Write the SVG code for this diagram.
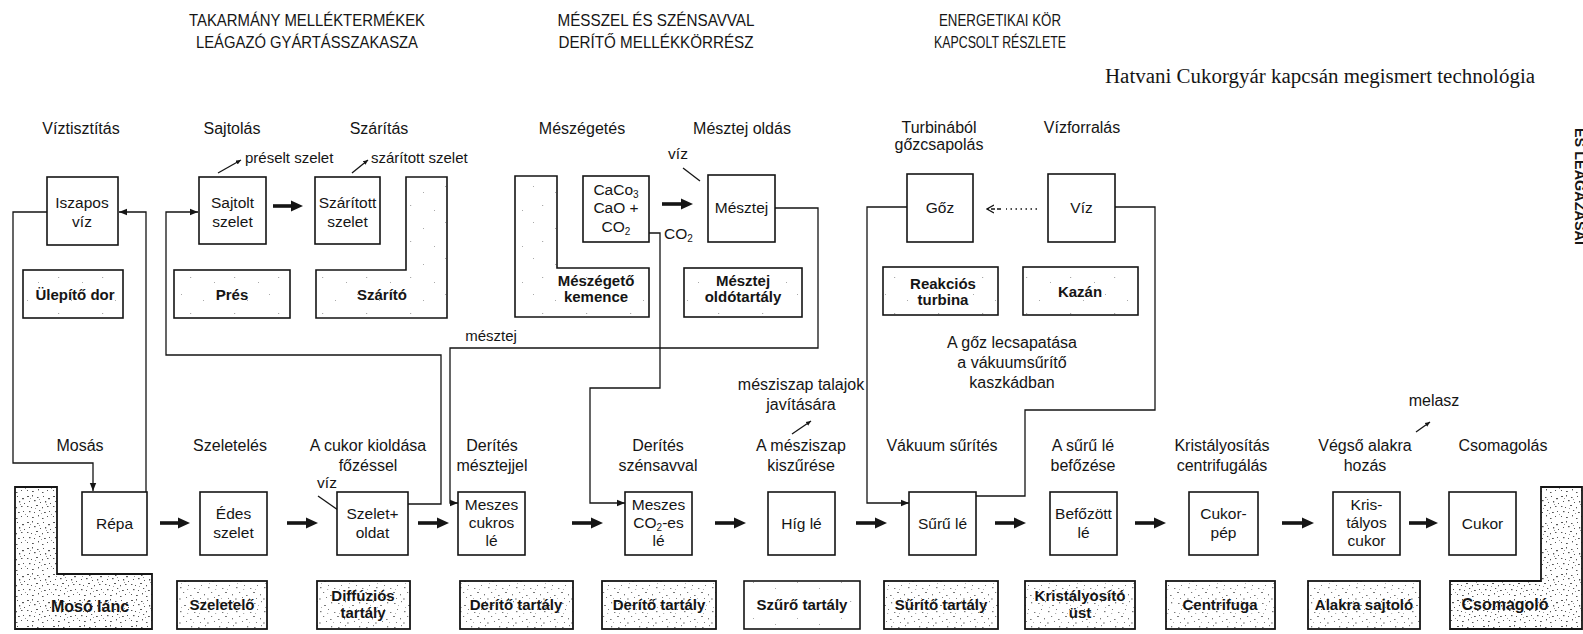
<svg xmlns="http://www.w3.org/2000/svg" width="1583" height="634" viewBox="0 0 1583 634">
<style>
text{font-family:"Liberation Sans",Arial,sans-serif;fill:#151515;text-anchor:middle}
.lb{font-size:16px}
.bt{font-size:15.5px}
.et{font-size:15px;font-weight:bold}
.el{font-size:16px;font-weight:bold}
.hd{font-size:17px}
.sm{font-size:15px}
.tm{font-family:"Liberation Serif","Times New Roman",serif;font-size:20px;text-anchor:start}
.box{fill:#fff;stroke:#151515;stroke-width:1.6}
.eq{fill:url(#spk);stroke:#151515;stroke-width:1.8}
.eqd{fill:url(#spkD);stroke:#151515;stroke-width:1.8}
.eql{fill:url(#spkL);stroke:#151515;stroke-width:1.6}
.ln{fill:none;stroke:#151515;stroke-width:1.3}
.th{fill:none;stroke:#151515;stroke-width:3.6;marker-end:url(#thk)}
.arr{marker-end:url(#sa)}
.tip{marker-end:url(#ta)}
</style>
<defs>
<marker id="thk" markerUnits="userSpaceOnUse" markerWidth="14" markerHeight="14" refX="2" refY="7" orient="auto"><path d="M0,1.5 L12,7 L0,12.5 z" fill="#151515"/></marker>
<marker id="sa" markerUnits="userSpaceOnUse" markerWidth="9" markerHeight="8" refX="8" refY="4" orient="auto"><path d="M0,0.8 L8,4 L0,7.2 z" fill="#151515"/></marker>
<marker id="ta" markerUnits="userSpaceOnUse" markerWidth="6" markerHeight="6" refX="5" refY="3" orient="auto"><path d="M0,0.8 L5,3 L0,5.2 z" fill="#151515"/></marker>
<marker id="oa" markerUnits="userSpaceOnUse" markerWidth="8" markerHeight="10" refX="7" refY="5" orient="auto"><path d="M0,1 L7,5 L0,9" fill="none" stroke="#151515" stroke-width="1.3"/></marker>
<pattern id="spk" width="28" height="24" patternUnits="userSpaceOnUse">
<rect width="28" height="24" fill="#fff"/>
<g fill="#7a7a7a">
<rect x="2" y="3" width="1.6" height="1"/><rect x="9" y="1" width="1" height="1.2"/><rect x="16" y="5" width="2" height="1"/><rect x="23" y="2" width="1.2" height="1.4"/>
<rect x="5" y="9" width="1" height="1"/><rect x="12" y="11" width="1.5" height="1.2"/><rect x="20" y="9" width="1" height="1"/><rect x="26" y="12" width="1.4" height="1"/>
<rect x="1" y="16" width="2" height="1"/><rect x="8" y="18" width="1" height="1.4"/><rect x="15" y="16" width="1.2" height="1"/><rect x="22" y="19" width="1.6" height="1"/>
<rect x="4" y="22" width="1" height="1"/><rect x="11" y="22.5" width="1.8" height="1"/><rect x="18" y="21" width="1" height="1"/>
</g>
<g fill="#b0b0b0">
<rect x="6" y="5" width="1" height="1"/><rect x="19" y="13" width="1.2" height="1"/><rect x="13" y="7" width="1" height="1"/><rect x="25" y="22" width="1" height="1"/><rect x="3" y="13" width="1" height="1"/>
</g>
</pattern>
<pattern id="spkD" width="26" height="26" patternUnits="userSpaceOnUse">
<rect width="26" height="26" fill="#fff"/>
<g fill="#555">
<rect x="1" y="2" width="2" height="1"/><rect x="6" y="1" width="1" height="1.5"/><rect x="11" y="3" width="1.5" height="1"/><rect x="17" y="2" width="1" height="1"/><rect x="22" y="4" width="2" height="1.2"/>
<rect x="3" y="7" width="1" height="1"/><rect x="8" y="6" width="1.6" height="1.2"/><rect x="14" y="8" width="1" height="1"/><rect x="19" y="7" width="1.2" height="1.5"/><rect x="24" y="9" width="1" height="1"/>
<rect x="1" y="12" width="1.4" height="1"/><rect x="5" y="13" width="1" height="1"/><rect x="10" y="11" width="2" height="1"/><rect x="16" y="13" width="1" height="1.3"/><rect x="21" y="12" width="1.5" height="1"/>
<rect x="3" y="17" width="1.5" height="1.2"/><rect x="8" y="18" width="1" height="1"/><rect x="13" y="16" width="1.2" height="1"/><rect x="18" y="18" width="1.8" height="1"/><rect x="23" y="17" width="1" height="1"/>
<rect x="1" y="22" width="1" height="1"/><rect x="6" y="23" width="1.8" height="1"/><rect x="12" y="21" width="1" height="1.4"/><rect x="16" y="24" width="1.5" height="1"/><rect x="21" y="22" width="1" height="1"/>
</g>
<g fill="#999">
<rect x="4" y="4" width="1" height="1"/><rect x="13" y="5" width="1" height="1"/><rect x="20" y="10" width="1" height="1"/><rect x="9" y="14" width="1" height="1"/><rect x="25" y="20" width="1" height="1"/><rect x="15" y="19" width="1" height="1"/>
</g>
</pattern>
<pattern id="spkL" width="44" height="36" patternUnits="userSpaceOnUse">
<rect width="44" height="36" fill="#fff"/>
<g fill="#aaa">
<rect x="5" y="6" width="1" height="1"/><rect x="27" y="12" width="1" height="1"/><rect x="14" y="25" width="1.2" height="1"/><rect x="38" y="30" width="1" height="1"/>
</g>
</pattern>
</defs>

<rect width="1583" height="634" fill="#fff"/>

<g id="headers">
<text class="hd" x="307" y="26" textLength="236" lengthAdjust="spacingAndGlyphs">TAKARMÁNY MELLÉKTERMÉKEK</text>
<text class="hd" x="307" y="48" textLength="222" lengthAdjust="spacingAndGlyphs">LEÁGAZÓ GYÁRTÁSSZAKASZA</text>
<text class="hd" x="656" y="26" textLength="197" lengthAdjust="spacingAndGlyphs">MÉSSZEL ÉS SZÉNSAVVAL</text>
<text class="hd" x="656" y="48" textLength="195" lengthAdjust="spacingAndGlyphs">DERÍTŐ MELLÉKKÖRRÉSZ</text>
<text class="hd" x="1000" y="26" textLength="122" lengthAdjust="spacingAndGlyphs">ENERGETIKAI KÖR</text>
<text class="hd" x="1000" y="48" textLength="132" lengthAdjust="spacingAndGlyphs">KAPCSOLT RÉSZLETE</text>
<text class="tm" x="1105" y="83" textLength="430" lengthAdjust="spacingAndGlyphs">Hatvani Cukorgyár kapcsán megismert technológia</text>
<text transform="translate(1575,128) rotate(90)" style="font-size:14px;font-weight:bold;text-anchor:start" textLength="117" lengthAdjust="spacingAndGlyphs">ÉS LEÁGAZÁSAI</text>
</g>

<g id="labels">
<text class="lb" x="81" y="134">Víztisztítás</text>
<text class="lb" x="232" y="134">Sajtolás</text>
<text class="lb" x="379" y="134">Szárítás</text>
<text class="lb" x="582" y="134">Mészégetés</text>
<text class="lb" x="742" y="134">Mésztej oldás</text>
<text class="lb" x="939" y="133">Turbinából</text>
<text class="lb" x="939" y="150">gőzcsapolás</text>
<text class="lb" x="1082" y="133">Vízforralás</text>
<text class="sm" x="245" y="163" style="text-anchor:start">préselt szelet</text>
<text class="sm" x="371" y="163" style="text-anchor:start">szárított szelet</text>
<text class="bt" x="678" y="159">víz</text>
<text class="bt" x="664" y="239" style="text-anchor:start">CO<tspan font-size="10" dy="3">2</tspan></text>
<text class="sm" x="491" y="341">mésztej</text>
<text class="lb" x="1012" y="348">A gőz lecsapatása</text>
<text class="lb" x="1012" y="368">a vákuumsűrítő</text>
<text class="lb" x="1012" y="388">kaszkádban</text>
<text class="lb" x="801" y="390">mésziszap talajok</text>
<text class="lb" x="801" y="410">javítására</text>
<text class="lb" x="1434" y="406">melasz</text>
<text class="bt" x="327" y="488">víz</text>
<text class="lb" x="80" y="451">Mosás</text>
<text class="lb" x="230" y="451">Szeletelés</text>
<text class="lb" x="368" y="451">A cukor kioldása</text>
<text class="lb" x="368" y="471">főzéssel</text>
<text class="lb" x="492" y="451">Derítés</text>
<text class="lb" x="492" y="471">mésztejjel</text>
<text class="lb" x="658" y="451">Derítés</text>
<text class="lb" x="658" y="471">szénsavval</text>
<text class="lb" x="801" y="451">A mésziszap</text>
<text class="lb" x="801" y="471">kiszűrése</text>
<text class="lb" x="942" y="451">Vákuum sűrítés</text>
<text class="lb" x="1083" y="451">A sűrű lé</text>
<text class="lb" x="1083" y="471">befőzése</text>
<text class="lb" x="1222" y="451">Kristályosítás</text>
<text class="lb" x="1222" y="471">centrifugálás</text>
<text class="lb" x="1365" y="451">Végső alakra</text>
<text class="lb" x="1365" y="471">hozás</text>
<text class="lb" x="1503" y="451">Csomagolás</text>
</g>

<g id="connectors">
<path class="ln arr" d="M47,212 H13 V463 H93 V491"/>
<path class="ln arr" d="M146,492 V212 H119"/>
<path class="ln arr" d="M408,504 H441 V355 H166 V212 H198"/>
<path class="ln arr" d="M775,208 H818 V348 H450 V503 H458"/>
<path class="ln arr" d="M649,233 H660 V388 H590 V503 H625"/>
<path class="ln arr" d="M907,207 H867 V503 H909"/>
<path class="ln" d="M1115,207 H1155 V410 H1025 V496 H976"/>
<line class="ln" x1="1037" y1="209" x2="1006" y2="209" stroke-dasharray="1.5,3.5"/>
<line class="ln" x1="1001" y1="209" x2="987" y2="209" stroke-dasharray="4,2" marker-end="url(#oa)"/>
<line class="ln tip" x1="218" y1="173" x2="241" y2="160"/>
<line class="ln tip" x1="352" y1="173" x2="368" y2="160"/>
<line class="ln" x1="683" y1="168" x2="700" y2="181"/>
<line class="ln" x1="318" y1="496" x2="338" y2="510"/>
<line class="ln tip" x1="792" y1="434" x2="811" y2="421"/>
<line class="ln tip" x1="1416" y1="432" x2="1430" y2="422"/>
<line class="th" x1="273" y1="206" x2="293" y2="206"/>
<line class="th" x1="662" y1="204" x2="683" y2="204"/>
<line class="th" x1="160" y1="523" x2="180" y2="523"/>
<line class="th" x1="287" y1="523" x2="308" y2="523"/>
<line class="th" x1="418" y1="523" x2="439" y2="523"/>
<line class="th" x1="572" y1="523" x2="593" y2="523"/>
<line class="th" x1="715" y1="523" x2="736" y2="523"/>
<line class="th" x1="856" y1="523" x2="877" y2="523"/>
<line class="th" x1="995" y1="523" x2="1016" y2="523"/>
<line class="th" x1="1135" y1="523" x2="1156" y2="523"/>
<line class="th" x1="1282" y1="523" x2="1304" y2="523"/>
<line class="th" x1="1409" y1="523" x2="1428" y2="523"/>
</g>

<g id="n-iszapos"><rect class="box" x="47" y="177" width="71" height="68"/><text class="bt" x="82" y="208">Iszapos</text><text class="bt" x="82" y="227">víz</text></g>
<g id="n-ulepito"><rect class="eql" x="23" y="270" width="100" height="48"/><text class="et" x="75" y="300">Ülepítő dor</text></g>
<g id="n-sajtolt"><rect class="box" x="199" y="177" width="67" height="67"/><text class="bt" x="232.5" y="208">Sajtolt</text><text class="bt" x="232.5" y="227">szelet</text></g>
<g id="n-pres"><rect class="eql" x="174" y="270" width="116" height="48"/><text class="et" x="232" y="300">Prés</text></g>
<g id="n-szaritott"><rect class="box" x="315" y="177" width="65" height="67"/><text class="bt" x="347.5" y="208">Szárított</text><text class="bt" x="347.5" y="227">szelet</text></g>
<g id="n-szarito"><path class="eql" d="M406,177 H447 V318 H316 V270 H406 Z"/><text class="et" x="382" y="300">Szárító</text></g>
<g id="n-meszegeto"><path class="eql" d="M515,176 H557 V268 H649 V317 H515 Z"/><text class="et" x="596" y="286">Mészégető</text><text class="et" x="596" y="302">kemence</text></g>
<g id="n-caco"><rect class="box" x="583" y="176" width="66" height="66"/><text class="bt" x="616" y="195">CaCo<tspan font-size="10" dy="3">3</tspan></text><text class="bt" x="616" y="213">CaO +</text><text class="bt" x="616" y="232">CO<tspan font-size="10" dy="3">2</tspan></text></g>
<g id="n-mesztej"><rect class="box" x="708" y="175" width="67" height="67"/><text class="bt" x="741.5" y="213">Mésztej</text></g>
<g id="n-mesztejtart"><rect class="eql" x="684" y="268" width="118" height="49"/><text class="et" x="743" y="286">Mésztej</text><text class="et" x="743" y="302">oldótartály</text></g>
<g id="n-goz"><rect class="box" x="907" y="174" width="66" height="68"/><text class="bt" x="940" y="213">Gőz</text></g>
<g id="n-viz"><rect class="box" x="1048" y="174" width="67" height="68"/><text class="bt" x="1081.5" y="213">Víz</text></g>
<g id="n-turbina"><rect class="eql" x="883" y="267" width="115" height="48"/><text class="et" x="943" y="289">Reakciós</text><text class="et" x="943" y="305">turbina</text></g>
<g id="n-kazan"><rect class="eql" x="1023" y="267" width="115" height="48"/><text class="et" x="1080" y="297">Kazán</text></g>

<g id="n-repa"><rect class="box" x="82" y="492" width="65" height="63"/><text class="bt" x="114.5" y="529">Répa</text></g>
<g id="n-edes"><rect class="box" x="200" y="492" width="67" height="63"/><text class="bt" x="233.5" y="519">Édes</text><text class="bt" x="233.5" y="538">szelet</text></g>
<g id="n-szeletoldat"><rect class="box" x="337" y="492" width="71" height="63"/><text class="bt" x="372.5" y="519">Szelet+</text><text class="bt" x="372.5" y="538">oldat</text></g>
<g id="n-meszescukros"><rect class="box" x="458" y="492" width="67" height="63"/><text class="bt" x="491.5" y="510">Meszes</text><text class="bt" x="491.5" y="528">cukros</text><text class="bt" x="491.5" y="546">lé</text></g>
<g id="n-meszesco2"><rect class="box" x="625" y="492" width="67" height="63"/><text class="bt" x="658.5" y="510">Meszes</text><text class="bt" x="658.5" y="528">CO<tspan font-size="10" dy="3">2</tspan><tspan dy="-3">-es</tspan></text><text class="bt" x="658.5" y="546">lé</text></g>
<g id="n-higle"><rect class="box" x="768" y="492" width="67" height="63"/><text class="bt" x="801.5" y="529">Híg lé</text></g>
<g id="n-suruie"><rect class="box" x="909" y="492" width="67" height="63"/><text class="bt" x="942.5" y="529">Sűrű lé</text></g>
<g id="n-befozott"><rect class="box" x="1050" y="492" width="67" height="63"/><text class="bt" x="1083.5" y="519">Befőzött</text><text class="bt" x="1083.5" y="538">lé</text></g>
<g id="n-cukorpep"><rect class="box" x="1189" y="492" width="69" height="63"/><text class="bt" x="1223.5" y="519">Cukor-</text><text class="bt" x="1223.5" y="538">pép</text></g>
<g id="n-kristalyos"><rect class="box" x="1333" y="492" width="67" height="63"/><text class="bt" x="1366.5" y="510">Kris-</text><text class="bt" x="1366.5" y="528">tályos</text><text class="bt" x="1366.5" y="546">cukor</text></g>
<g id="n-cukor"><rect class="box" x="1449" y="492" width="67" height="63"/><text class="bt" x="1482.5" y="529">Cukor</text></g>

<g id="n-moso"><path class="eqd" d="M15,487 H57 V574 H152 V629 H15 Z"/><text class="el" x="90" y="612">Mosó lánc</text></g>
<g id="n-szeletelo"><rect class="eq" x="177" y="581" width="90" height="48"/><text class="et" x="222" y="610">Szeletelő</text></g>
<g id="n-diffuzios"><rect class="eq" x="317" y="581" width="93" height="48"/><text class="et" x="363" y="601">Diffúziós</text><text class="et" x="363" y="618">tartály</text></g>
<g id="n-derito1"><rect class="eq" x="460" y="581" width="113" height="48"/><text class="et" x="516" y="610">Derítő tartály</text></g>
<g id="n-derito2"><rect class="eq" x="602" y="581" width="114" height="48"/><text class="et" x="659" y="610">Derítő tartály</text></g>
<g id="n-szuro"><rect class="eql" x="744" y="581" width="116" height="48"/><text class="et" x="802" y="610">Szűrő tartály</text></g>
<g id="n-surito"><rect class="eq" x="884" y="581" width="114" height="48"/><text class="et" x="941" y="610">Sűrítő tartály</text></g>
<g id="n-kristalyosito"><rect class="eq" x="1025" y="581" width="110" height="48"/><text class="et" x="1080" y="601">Kristályosító</text><text class="et" x="1080" y="618">üst</text></g>
<g id="n-centrifuga"><rect class="eq" x="1166" y="581" width="109" height="48"/><text class="et" x="1220" y="610">Centrifuga</text></g>
<g id="n-alakra"><rect class="eq" x="1308" y="581" width="112" height="48"/><text class="et" x="1364" y="610">Alakra sajtoló</text></g>
<g id="n-csomagolo"><path class="eqd" d="M1541,487 H1582 V629 H1450 V581 H1541 Z"/><text class="el" x="1505" y="610">Csomagoló</text></g>
</svg>
